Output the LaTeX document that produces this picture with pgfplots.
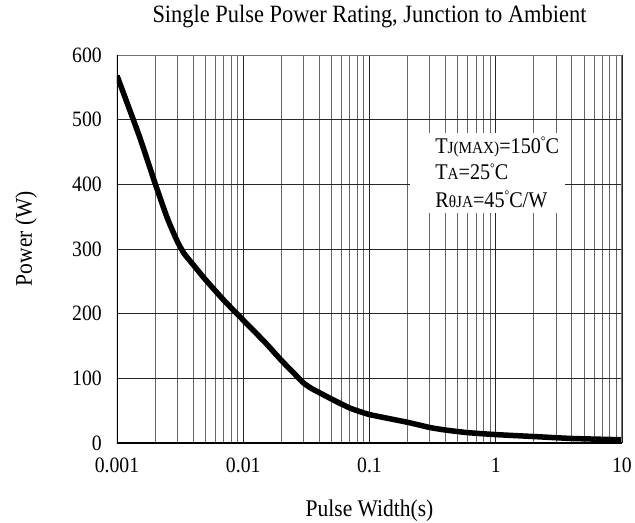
\documentclass[border=0pt]{standalone}
\usepackage{fontspec}
\setmainfont{Liberation Serif}[FakeStretch=0.9]
\usepackage{pgfplots}
\pgfplotsset{compat=1.18}
\newcommand{\sm}[1]{{\fontsize{17}{17}\selectfont #1}}
\newcommand{\dg}{\raisebox{0.35em}{\fontsize{13}{13}\selectfont °}}
\begin{document}
\begin{tikzpicture}
\useasboundingbox (-117bp,-80bp) rectangle (518bp,443bp);
\begin{axis}[
  at={(0,0)}, anchor=south west,
  scale only axis, width=505bp, height=388bp,
  xmode=log, log basis x=10,
  xmin=0.001, xmax=10, ymin=0, ymax=600,
  xtick={0.001,0.01,0.1,1,10},
  xticklabels={0.001,0.01,0.1,1,10},
  minor xtick={0.002,0.003,0.004,0.005,0.006,0.007,0.008,0.009,
               0.02,0.03,0.04,0.05,0.06,0.07,0.08,0.09,
               0.2,0.3,0.4,0.5,0.6,0.7,0.8,0.9,
               2,3,4,5,6,7,8,9},
  ytick={0,100,200,300,400,500,600},
  major tick length=0pt, minor tick length=0pt,
  grid=both,
  major grid style={black!85, line width=0.9bp},
  minor grid style={black!60, line width=0.9bp},
  axis line style={draw=none},
  /pgf/number format/assume math mode=true,
  tick label style={font=\fontsize{22}{22}\selectfont},
  xticklabel style={anchor=north, inner sep=0pt, yshift=-15bp},
  yticklabel style={anchor=east, inner sep=0pt, xshift=-15bp},
  label style={font=\fontsize{24}{24}\selectfont},
  xlabel={Pulse Width(s)},
  xlabel style={at={(axis description cs:0.5,0)}, anchor=base, inner sep=0pt, yshift=-73bp},
  ylabel={Power (W)},
  ylabel style={at={(axis description cs:0,0.527)}, anchor=base, inner sep=0pt, yshift=85bp},
  title={Single Pulse Power Rating, Junction to Ambient},
  title style={font=\fontsize{25}{25}\selectfont, at={(axis description cs:0.5,1)}, anchor=base, inner sep=0pt, yshift=27bp},
]
\addplot[black, line width=5.5bp, line join=round, smooth, tension=0.3] coordinates {
  (0.001,568) (0.0015,475) (0.002,402) (0.0025,348) (0.003,312) (0.0034,293)
  (0.004,276) (0.005,253) (0.007,221) (0.01,190) (0.015,155) (0.02,128)
  (0.03,93) (0.035,84) (0.04,78) (0.05,68) (0.07,54) (0.1,44) (0.2,32)
  (0.3,24) (0.4,20) (0.6,16) (1,13) (2,10) (4,7) (10,5)
};
\node[fill=white, inner sep=0pt, minimum width=155bp, minimum height=80bp, anchor=north west]
  at (axis description cs:0.580,0.799) {};
\node[anchor=base west, inner sep=0pt, font=\fontsize{22.5}{22.5}\selectfont]
  at (axis description cs:0.630,0.747) {T\sm{J(MAX)}=150\dg C};
\node[anchor=base west, inner sep=0pt, font=\fontsize{22.5}{22.5}\selectfont]
  at (axis description cs:0.630,0.678) {T\sm{A}=25\dg C};
\node[anchor=base west, inner sep=0pt, font=\fontsize{22.5}{22.5}\selectfont]
  at (axis description cs:0.630,0.608) {R\sm{θJA}=45\dg C/W};
\draw[black!55, line width=2bp] (rel axis cs:0,1) -- (rel axis cs:1,1) -- (rel axis cs:1,0);
\draw[black, line width=2.5bp] (rel axis cs:0,1) -- (rel axis cs:0,0) -- (rel axis cs:1,0);
\end{axis}
\end{tikzpicture}
\end{document}
